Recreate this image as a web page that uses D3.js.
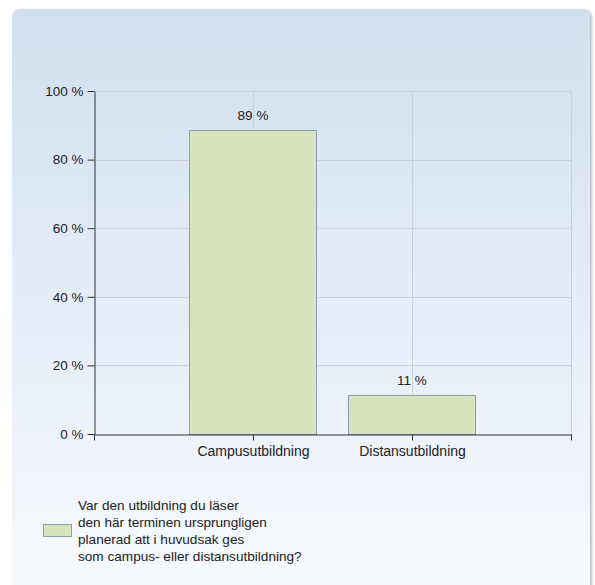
<!DOCTYPE html>
<html>
<head>
<meta charset="utf-8">
<script src="https://cdn.jsdelivr.net/npm/d3@7"></script>
<style>
  body { margin: 0; background: #fff; }
  svg { display: block; font-family: "Liberation Sans", Arial, sans-serif; }
</style>
</head>
<body>
<svg id="chart" width="595" height="585"></svg>
<script>
// data
const categories = ["Campusutbildning", "Distansutbildning"]
const values = [88.6, 11.4]
const valueLabels = ["89 %", "11 %"]
const yTicks = [0, 20, 40, 60, 80, 100]
const legendLines = [
    "Var den utbildning du läser",
    "den här terminen ursprungligen",
    "planerad att i huvudsak ges",
    "som campus- eller distansutbildning?"
]

const margin = { top: 91, left: 94, right: 24, bottom: 151 }
const width = 595, height = 585

const svg = d3.select("#chart")

// panel background
const defs = svg.append("defs")
const grad = defs.append("linearGradient").attr("id", "bg")
    .attr("x1", 0).attr("y1", 0).attr("x2", 0).attr("y2", 1)
grad.append("stop").attr("offset", "0%").attr("stop-color", "#d2dff0")
grad.append("stop").attr("offset", "100%").attr("stop-color", "#f9fbfe")
const shadow = defs.append("filter").attr("id", "shadow")
    .attr("x", "-5%").attr("y", "-5%").attr("width", "110%").attr("height", "110%")
shadow.append("feDropShadow").attr("dx", 2).attr("dy", 1)
    .attr("stdDeviation", 1.5).attr("flood-color", "#8a8f99").attr("flood-opacity", 0.6)

svg.append("rect")
    .attr("x", 12).attr("y", 9)
    .attr("width", 578).attr("height", 600)
    .attr("rx", 8)
    .attr("fill", "url(#bg)")
    .attr("filter", "url(#shadow)")

// scales: three equal slots, categories sit on slot boundaries 1 and 2
const x = d3.scaleLinear()
    .domain([0, categories.length + 1])
    .range([margin.left, width - margin.right])
const slot = x(1) - x(0)
const barW = slot * 0.8

const y = d3.scaleLinear()
    .domain([0, 100])
    .range([height - margin.bottom, margin.top])

// grid
const grid = svg.append("g").attr("stroke", "#c9d1de").attr("stroke-width", 1)
grid.selectAll(".h").data(yTicks.filter(d => d > 0)).join("line")
    .attr("x1", margin.left).attr("x2", x(3))
    .attr("y1", d => Math.round(y(d)) + 0.5).attr("y2", d => Math.round(y(d)) + 0.5)
grid.selectAll(".v").data([1, 2, 3]).join("line")
    .attr("x1", d => Math.round(x(d)) + 0.5).attr("x2", d => Math.round(x(d)) + 0.5)
    .attr("y1", y(100)).attr("y2", y(0))

// bars
svg.append("g")
    .selectAll("rect")
    .data(values)
    .join("rect")
    .attr("x", (d, i) => Math.round(x(i + 1) - barW / 2) + 0.5)
    .attr("y", d => Math.round(y(d)) + 0.5)
    .attr("width", Math.round(barW))
    .attr("height", d => Math.round(y(0)) - Math.round(y(d)))
    .attr("fill", "#d7e4bd")
    .attr("stroke", "#8aa0b9")
    .attr("stroke-width", 1)

// value labels
svg.append("g")
    .selectAll("text")
    .data(values)
    .join("text")
    .attr("x", (d, i) => x(i + 1))
    .attr("y", d => y(d) - 10)
    .attr("text-anchor", "middle")
    .attr("font-size", "13.5px")
    .attr("fill", "#222")
    .text((d, i) => valueLabels[i])

// axes
function yAxis(g) {
    g.attr("transform", `translate(${margin.left + 0.5},0)`)
        .call(d3.axisLeft(y).tickValues(yTicks).tickFormat(d => d + " %").tickSize(7).tickSizeOuter(0))
    g.selectAll("text").attr("font-size", "13.5px").attr("fill", "#222").attr("dx", "-1")
    g.selectAll("path, line").attr("stroke", "#333")
}
svg.append("g").call(yAxis)

function xAxis(g) {
    g.attr("transform", `translate(0,${Math.round(y(0)) + 0.5})`)
        .call(d3.axisBottom(x).tickValues([0, 1, 2, 3])
            .tickFormat(d => categories[d - 1] || "").tickSize(6).tickSizeOuter(0))
    g.selectAll("text").attr("font-size", "14px").attr("fill", "#222").attr("dy", "0.9em")
    g.selectAll("path, line").attr("stroke", "#333")
}
svg.append("g").call(xAxis)

// legend
const legend = svg.append("g")
legend.append("rect")
    .attr("x", 43.5).attr("y", 524.5)
    .attr("width", 28).attr("height", 12)
    .attr("fill", "#d7e4bd")
    .attr("stroke", "#8aa0b9")
legend.selectAll("text")
    .data(legendLines)
    .join("text")
    .attr("x", 78)
    .attr("y", (d, i) => 510 + i * 17)
    .attr("font-size", "13.6px")
    .attr("fill", "#222")
    .text(d => d)
</script>
</body>
</html>
